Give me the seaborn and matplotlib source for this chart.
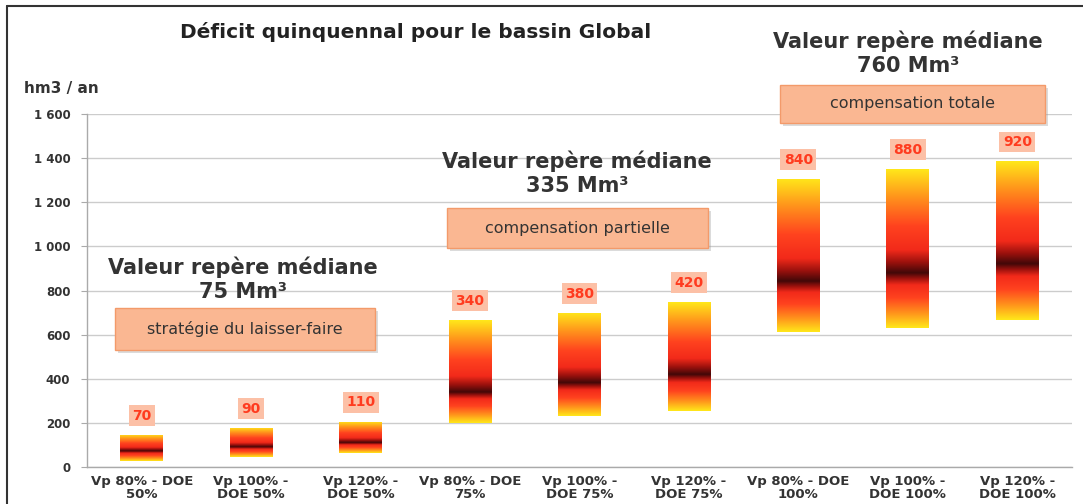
import numpy as np
import pandas as pd
import matplotlib.pyplot as plt
import seaborn as sns
from matplotlib.colors import LinearSegmentedColormap
from matplotlib.patches import Rectangle
from matplotlib.lines import Line2D

scenarios = ["Vp 80% - DOE\n50%", "Vp 100% -\nDOE 50%", "Vp 120% -\nDOE 50%",
             "Vp 80% - DOE\n75%", "Vp 100% -\nDOE 75%", "Vp 120% -\nDOE 75%",
             "Vp 80% - DOE\n100%", "Vp 100% -\nDOE 100%", "Vp 120% -\nDOE 100%"]
median = [70, 90, 110, 340, 380, 420, 840, 880, 920]
low = [25, 45, 64, 200, 230, 255, 610, 630, 665]
high = [145, 177, 205, 665, 697, 746, 1305, 1350, 1385]

groups = ["Valeur repère médiane\n75 Mm³", "Valeur repère médiane\n335 Mm³", "Valeur repère médiane\n760 Mm³"]
strategies = ["stratégie du laisser-faire", "compensation partielle", "compensation totale"]

df = pd.DataFrame({"scenario": scenarios, "high": high})

sns.set_style("white")
plt.rcParams['font.family'] = ['DejaVu Sans']

W, H = 1083, 504
fig = plt.figure(figsize=(W / 100, H / 100), dpi=100)
fig.patch.set_facecolor("white")
ax = fig.add_axes([87 / W, 1 - 467 / H, (1072 - 87) / W, (467 - 114) / H])

sns.barplot(data=df, x="scenario", y="high", width=0.39, color="#ff5a20", ax=ax, zorder=2)

# colour ramp: dark at the median, red, orange, yellow at the ends
cmap = LinearSegmentedColormap.from_list("deficit", [
    (0.0, "#420808"), (0.1, "#9a110d"), (0.22, "#f22a1a"), (0.45, "#ff421f"),
    (0.72, "#ff901c"), (1.0, "#ffe81a")], N=1024)

for i, p in enumerate(ax.patches):
    p.set_y(low[i])
    p.set_height(high[i] - low[i])
    p.set_facecolor("none")
    p.set_edgecolor("none")
    ys = np.linspace(low[i], high[i], 600)
    t = np.where(ys >= median[i],
                 (ys - median[i]) / (high[i] - median[i]),
                 (median[i] - ys) / (median[i] - low[i]))
    img = cmap(t)[:, None, :]
    x0 = p.get_x()
    im = ax.imshow(img, extent=(x0, x0 + p.get_width(), low[i], high[i]),
                   origin="lower", aspect="auto", interpolation="bilinear",
                   interpolation_stage="rgba", zorder=2)
    im.set_clip_path(p)
    ax.annotate(str(median[i]), xy=(i, high[i]), xytext=(0, 14), textcoords="offset points",
                ha="center", va="center", color="#ff3b1f", fontsize=10, fontweight="bold",
                bbox=dict(boxstyle="square,pad=0.25", fc="#fcc0a6", ec="none"), zorder=3)

ax.set_xlim(-0.5, 8.5)
ax.set_ylim(0, 1600)
ax.set_aspect("auto")
ax.set_xlabel("")
ax.set_ylabel("")

yt = list(range(0, 1601, 200))
ax.set_yticks(yt)
ax.set_yticklabels([f"{v:,}".replace(",", " ") for v in yt], fontsize=8.5,
                   fontweight="bold", color="#333333")
ax.set_xticks(range(len(scenarios)))
ax.set_xticklabels(scenarios, fontsize=9.5, fontweight="bold", color="#333333", linespacing=0.95)
ax.set_xticks(np.arange(0.5, 8.5, 1), minor=True)
ax.tick_params(axis="x", which="major", length=0, pad=6)
ax.tick_params(axis="x", which="minor", length=4, color="#aaaaaa")
ax.tick_params(axis="y", length=4, color="#aaaaaa", left=True, pad=8)

ax.yaxis.grid(True, color="#cccccc", lw=1)
ax.set_axisbelow(True)
for s in ["top", "right"]:
    ax.spines[s].set_visible(False)
for s in ["left", "bottom"]:
    ax.spines[s].set_color("#aaaaaa")
    ax.spines[s].set_linewidth(1)


def fx(x):
    return x / W


def fy(y):
    return 1 - y / H


fig.text(fx(416), fy(32), "Déficit quinquennal pour le bassin Global", ha="center", va="center",
         fontsize=14.5, fontweight="bold", color="#222222")
fig.text(fx(24), fy(88), "hm3 / an", ha="left", va="center", fontsize=11,
         fontweight="bold", color="#333333")

# annotation groups: heading text centre, box centre, box size (pixels)
heads = [(243, 279), (577, 173), (908, 53)]
boxes = [(245, 329, 260, 42), (577, 228, 261, 40), (912, 104, 265, 38)]
for txt, strat, (hx, hy), (bx, by, bw, bh) in zip(groups, strategies, heads, boxes):
    fig.text(fx(hx), fy(hy), txt, ha="center", va="center", fontsize=15,
             fontweight="bold", color="#333333", linespacing=1.25)
    fig.patches.append(Rectangle((fx(bx - bw / 2 + 3), fy(by + bh / 2 + 3)), bw / W, bh / H,
                                 transform=fig.transFigure, fc="#999999", ec="none", alpha=0.35))
    fig.patches.append(Rectangle((fx(bx - bw / 2), fy(by + bh / 2)), bw / W, bh / H,
                                 transform=fig.transFigure, fc="#fab792", ec="#f39a6a", lw=1))
    fig.text(fx(bx), fy(by), strat, ha="center", va="center", fontsize=11.5, color="#333333")

# frame at top and left
fig.lines.append(Line2D([fx(7), 1], [fy(6), fy(6)], transform=fig.transFigure, color="#333333", lw=1.5))
fig.lines.append(Line2D([fx(7), fx(7)], [fy(6), 0], transform=fig.transFigure, color="#333333", lw=1.5))

fig.savefig("out.png", dpi=100)
